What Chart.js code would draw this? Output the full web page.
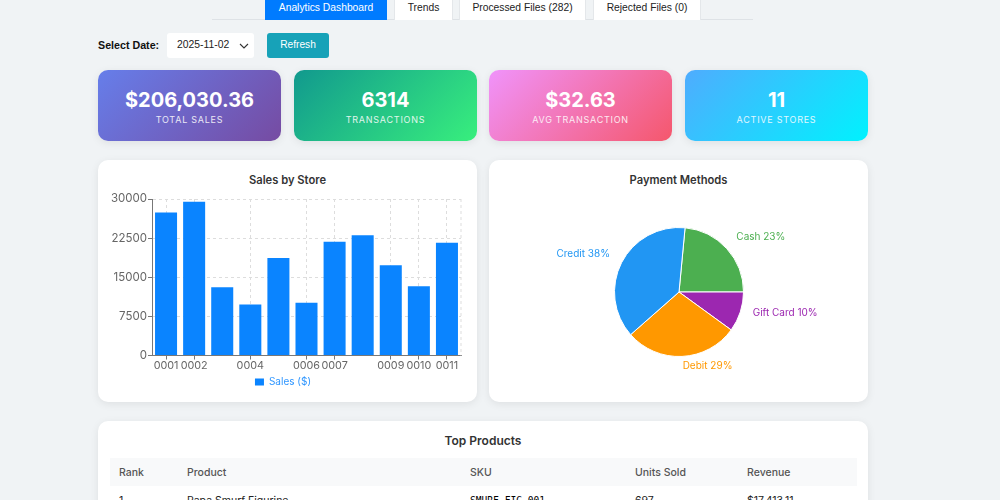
<!DOCTYPE html>
<html>
<head>
<meta charset="utf-8">
<title>Analytics Dashboard</title>
<script src="https://cdn.jsdelivr.net/npm/chart.js@4/dist/chart.umd.min.js"></script>
<style>
html, body { margin: 0; padding: 0; width: 1000px; height: 500px; overflow: hidden; }
body { background: #f0f3f5; font-family: Inter, sans-serif; color: #333; position: relative; }
.tabline { position: absolute; left: 212px; top: 19px; width: 541px; height: 1px; background: #dee2e6; }
.tab { position: absolute; top: -10px; height: 30px; text-align: center; font: 10.3px/33px "Liberation Sans", Arial, sans-serif; background: #fff; color: #222; border: 1px solid #e4e7ea; border-bottom: 0; box-sizing: border-box; border-radius: 3px 3px 0 0; }
.tab.active { background: #007bff; color: #fff; border-color: #007bff; }
.date-label { position: absolute; left: 98px; top: 38px; font: bold 10.7px/14px "Liberation Sans", Arial, sans-serif; color: #111; }
.date-select { position: absolute; left: 167px; top: 33px; width: 87px; height: 25px; box-sizing: border-box; background: #fff; border-radius: 3px; font: 10.4px/24px "Liberation Sans", Arial, sans-serif; padding-left: 10px; color: #222; }
.date-select svg { position: absolute; right: 5px; top: 9px; }
.refresh { position: absolute; left: 267px; top: 33px; width: 62px; height: 25px; background: #17a2b8; color: #fff; border-radius: 3px; text-align: center; font: 10.2px/24px "Liberation Sans", Arial, sans-serif; }
.stat { position: absolute; top: 70px; width: 183px; height: 71px; border-radius: 10px; color: #fff; text-align: center; box-shadow: 0 2px 8px rgba(0,0,0,.08); }
.stat b { display: block; margin-top: 17.5px; font-size: 20px; line-height: 25px; font-weight: 700; }
.stat span { display: block; margin-top: 1.5px; font-size: 9px; line-height: 12px; letter-spacing: .75px; opacity: .85; }
.card { position: absolute; background: #fff; border-radius: 10px; box-shadow: 0 2px 8px rgba(0,0,0,.08); }
.card h3 { margin: 0; position: absolute; left: 0; right: 0; text-align: center; font-size: 11.2px; line-height: 16px; font-weight: 600; color: #333; }
canvas { position: absolute; }
table { position: absolute; left: 12px; top: 37px; width: 747px; border-collapse: collapse; font-size: 10.5px; table-layout: fixed; }
th { background: #f8f9fa; text-align: left; font-weight: 500; color: #555; height: 28px; padding: 0 0 0 9px; box-sizing: border-box; }
td { height: 28px; padding: 0 0 0 9px; color: #222; box-sizing: border-box; }
td.sku { font-family: "DejaVu Sans Mono", monospace; font-size: 9.6px; color: #000; }
</style>
</head>
<body>
<div class="tabline"></div>
<div class="tab active" style="left:265px;width:122px">Analytics Dashboard</div>
<div class="tab" style="left:394px;width:59px">Trends</div>
<div class="tab" style="left:459px;width:127px">Processed Files (282)</div>
<div class="tab" style="left:593px;width:108px">Rejected Files (0)</div>

<div class="date-label">Select Date:</div>
<div class="date-select">2025-11-02
  <svg width="10" height="8" viewBox="0 0 10 8"><path d="M1 2 L5 6 L9 2" fill="none" stroke="#333" stroke-width="1.1"/></svg>
</div>
<div class="refresh">Refresh</div>

<div class="stat" style="left:98px;background:linear-gradient(135deg,#667eea,#764ba2)"><b>$206,030.36</b><span>TOTAL SALES</span></div>
<div class="stat" style="left:294px;background:linear-gradient(135deg,#11998e,#38ef7d)"><b>6314</b><span>TRANSACTIONS</span></div>
<div class="stat" style="left:489px;background:linear-gradient(135deg,#f093fb,#f5576c)"><b>$32.63</b><span>AVG TRANSACTION</span></div>
<div class="stat" style="left:685px;background:linear-gradient(135deg,#4facfe,#00f2fe)"><b>11</b><span>ACTIVE STORES</span></div>

<div class="card" style="left:98px;top:160px;width:379px;height:242px">
  <h3 style="top:12px">Sales by Store</h3>
  <canvas id="storeChart" width="365" height="216" style="left:7px;top:30px"></canvas>
</div>
<div class="card" style="left:489px;top:160px;width:379px;height:242px">
  <h3 style="top:12px">Payment Methods</h3>
  <canvas id="paymentChart" width="360" height="182" style="left:10px;top:41px"></canvas>
</div>
<div class="card" style="left:98px;top:421px;width:770px;height:200px">
  <h3 style="top:12px;font-size:12px">Top Products</h3>
  <table>
    <colgroup><col style="width:68px"><col style="width:283px"><col style="width:165px"><col style="width:112px"><col></colgroup>
    <tr><th>Rank</th><th>Product</th><th>SKU</th><th>Units Sold</th><th>Revenue</th></tr>
    <tr><td>1</td><td>Papa Smurf Figurine</td><td class="sku">SMURF-FIG-001</td><td>697</td><td>$17,413.11</td></tr>
  </table>
</div>

<script>
// Sales by store
const stores = ['0001', '0002', '0003', '0004', '0005', '0006', '0007', '0008', '0009', '0010', '0011'];
const storeTickLabels = ['0001', '0002', '', '0004', '', '0006', '0007', '', '0009', '0010', '0011'];
const storeSales = [27420, 29480, 13100, 9800, 18710, 10130, 21800, 23030, 17290, 13290, 21610];
const salesTicks = [0, 7500, 15000, 22500, 30000];

// Payment methods
const paymentLabels = ['Cash', 'Gift Card', 'Debit', 'Credit'];
const paymentShares = [23.5, 10, 28.5, 38];
const paymentPercents = ['23%', '10%', '29%', '38%'];
const paymentColors = ['#4caf50', '#9c27b0', '#ff9800', '#2196f3'];

const FONT = 'Inter, sans-serif';

// Dashed right edge of the plot, the grid stops short of it otherwise
const rightEdge = {
    id: 'rightEdge',
    beforeDatasetsDraw(chart) {
        const { ctx, chartArea } = chart;
        ctx.save();
        ctx.strokeStyle = '#dddddd';
        ctx.setLineDash([3, 3]);
        ctx.beginPath();
        ctx.moveTo(chartArea.right, chartArea.top);
        ctx.lineTo(chartArea.right, chartArea.bottom);
        ctx.stroke();
        ctx.restore();
    }
};

new Chart(document.getElementById('storeChart'), {
    type: 'bar',
    data: {
        labels: stores,
        datasets: [{
            label: 'Sales ($)',
            data: storeSales,
            backgroundColor: '#0a84ff',
            categoryPercentage: 0.8,
            barPercentage: 0.98
        }]
    },
    options: {
        responsive: false,
        animation: false,
        layout: { padding: { left: 0, right: 9, top: 9, bottom: 9 } },
        scales: {
            x: {
                offset: true,
                grid: {
                    offset: false,
                    color: ctx => storeTickLabels[ctx.index] ? '#dddddd' : 'transparent',
                    tickColor: ctx => storeTickLabels[ctx.index] ? '#777' : 'transparent',
                    tickLength: 4
                },
                border: { color: '#777', dash: [3, 3] },
                ticks: {
                    autoSkip: false,
                    maxRotation: 0,
                    color: '#666',
                    font: { family: FONT, size: 10.8 },
                    padding: 0,
                    callback: (v, i) => storeTickLabels[i]
                }
            },
            y: {
                min: 0,
                max: 30000,
                afterBuildTicks: axis => { axis.ticks = salesTicks.map(v => ({ value: v })); },
                afterFit: axis => { axis.width = 47; },
                grid: { color: '#dddddd', tickColor: '#777', tickLength: 4 },
                border: { color: '#777', dash: [3, 3] },
                ticks: {
                    color: '#666',
                    font: { family: FONT, size: 11.5 },
                    padding: 1,
                    callback: v => String(v)
                }
            }
        },
        plugins: {
            legend: {
                position: 'bottom',
                labels: {
                    color: '#2f96ff',
                    boxWidth: 9,
                    boxHeight: 7,
                    padding: 4.5,
                    font: { family: FONT, size: 10 }
                }
            },
            tooltip: { enabled: false }
        }
    },
    plugins: [rightEdge]
});

// Pie labels sit just outside each slice, in the slice colour
const pieLabels = {
    id: 'pieLabels',
    afterDatasetsDraw(chart) {
        const { ctx } = chart;
        ctx.save();
        ctx.font = '10px ' + FONT;
        ctx.textBaseline = 'middle';
        chart.getDatasetMeta(0).data.forEach((arc, i) => {
            const mid = (arc.startAngle + arc.endAngle) / 2;
            const r = arc.outerRadius + 13;
            const x = arc.x + Math.cos(mid) * r;
            const y = arc.y + Math.sin(mid) * r - 3;
            ctx.fillStyle = paymentColors[i];
            ctx.textAlign = Math.cos(mid) >= 0 ? 'left' : 'right';
            ctx.fillText(paymentLabels[i] + ' ' + paymentPercents[i], x, y);
        });
        ctx.restore();
    }
};

new Chart(document.getElementById('paymentChart'), {
    type: 'pie',
    data: {
        labels: paymentLabels,
        datasets: [{
            data: paymentShares,
            backgroundColor: paymentColors,
            borderColor: '#ffffff',
            borderWidth: 1
        }]
    },
    options: {
        responsive: false,
        animation: false,
        rotation: 5.4,
        layout: { padding: 26 },
        plugins: {
            legend: { display: false },
            tooltip: { enabled: false }
        }
    },
    plugins: [pieLabels]
});
</script>
</body>
</html>
